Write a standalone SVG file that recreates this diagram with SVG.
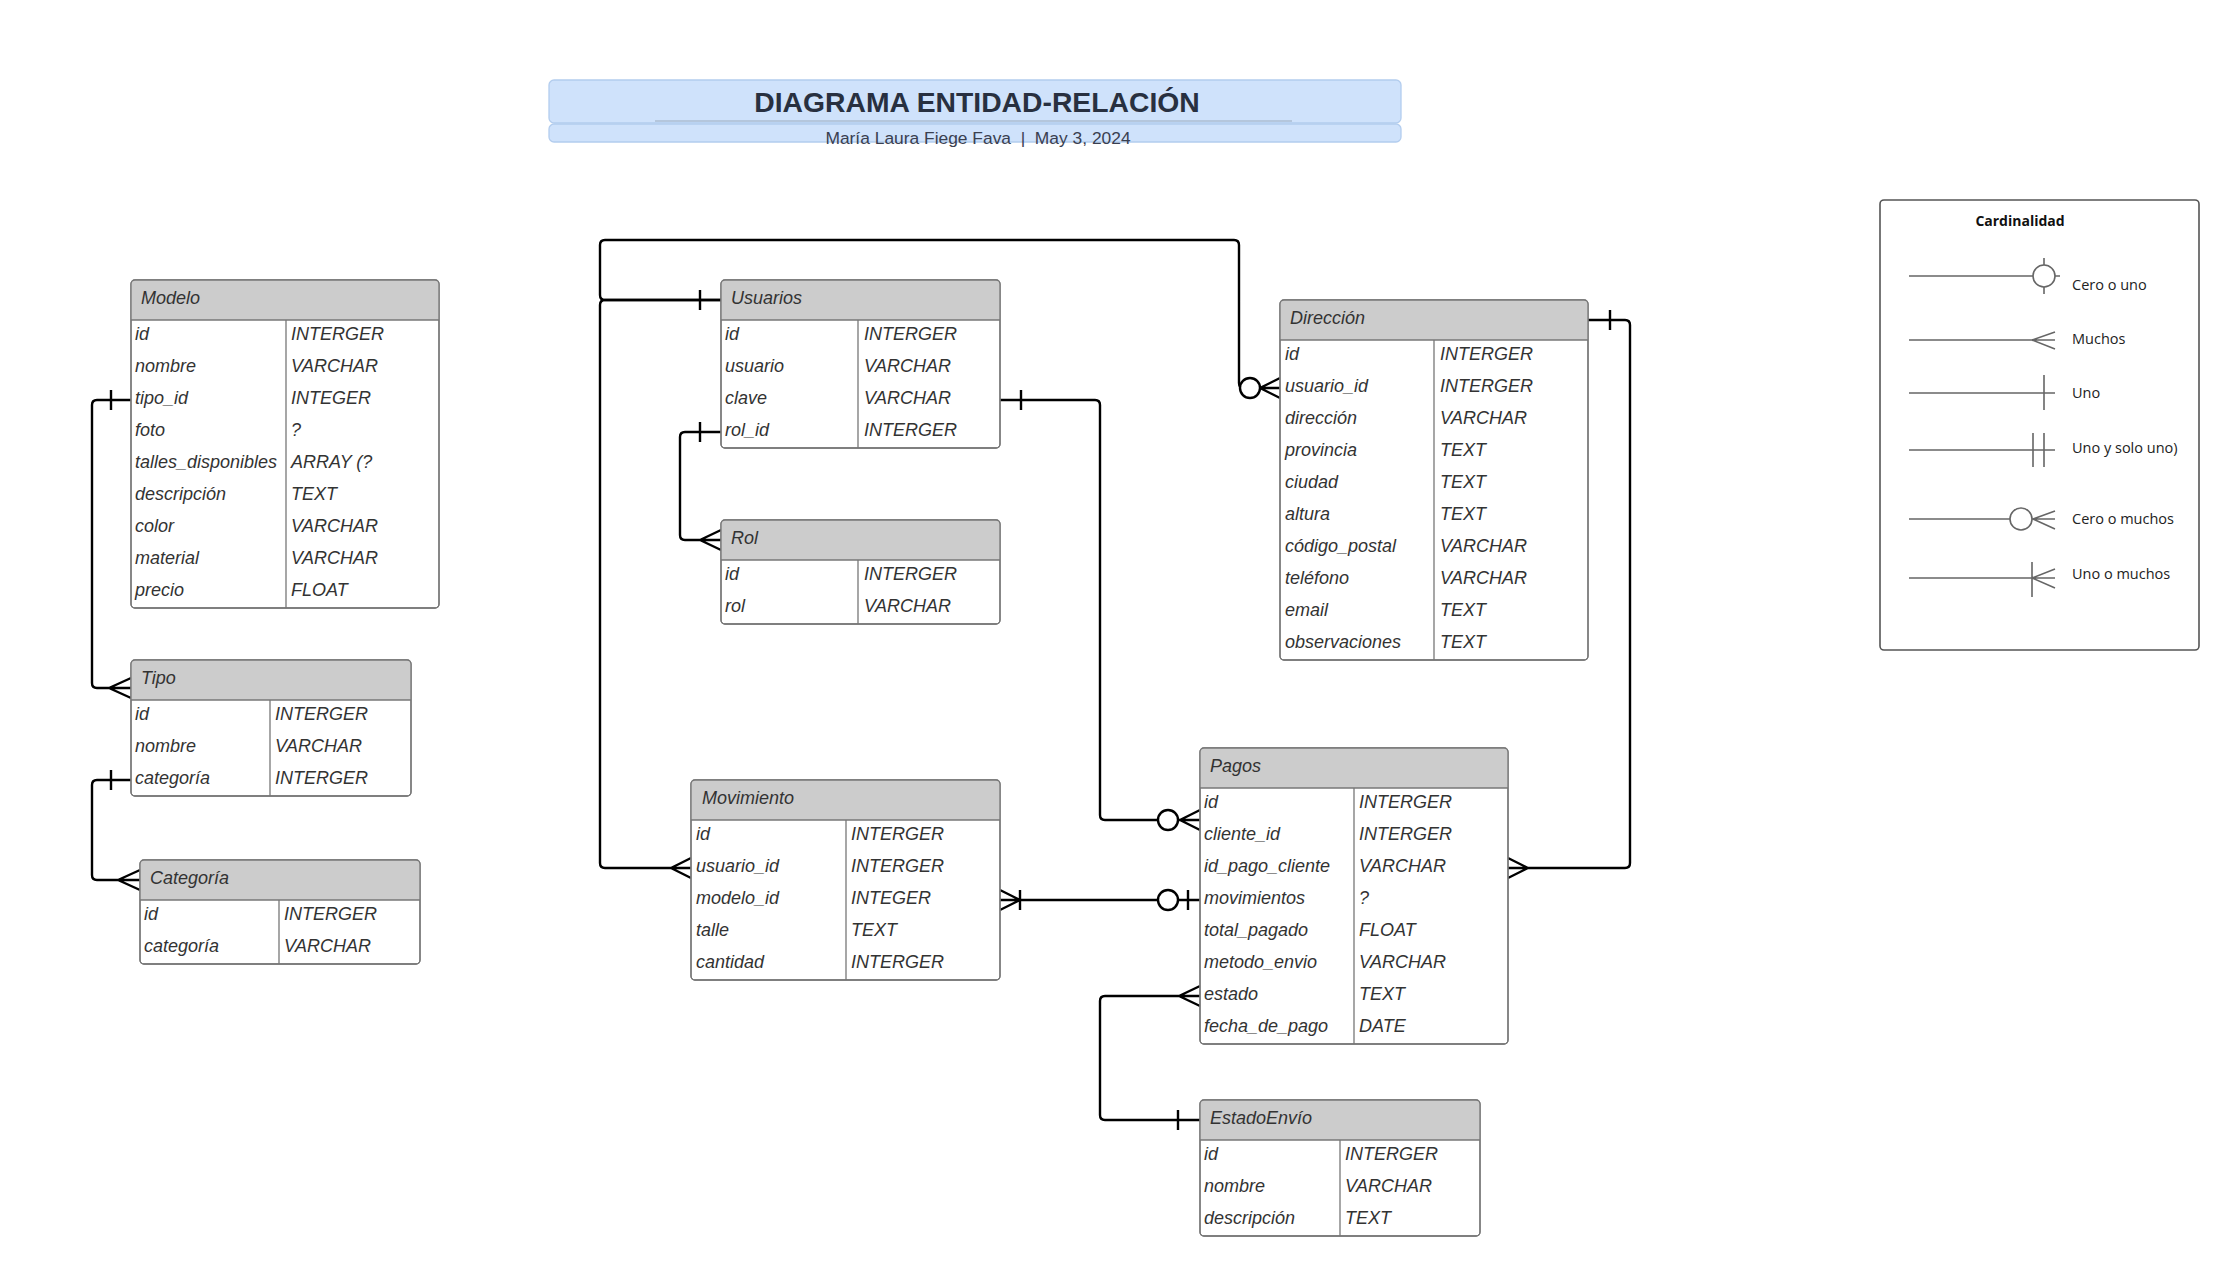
<svg xmlns="http://www.w3.org/2000/svg" width="2240" height="1276" viewBox="0 0 2240 1276">
<style>
.box{fill:#fff;stroke:#777;stroke-width:1.3}
.frame{fill:none;stroke:#777;stroke-width:1.3}
.hdr{fill:#cccccc}
.sep{stroke:#777;stroke-width:1.3}
.t{font-family:"Liberation Sans",Arial,sans-serif;font-size:18px;font-style:italic;fill:#333}
.c{fill:none;stroke:#000;stroke-width:2.4;stroke-linejoin:round}
.o{fill:#fff;stroke:#000;stroke-width:2.4}
.lg{fill:none;stroke:#666;stroke-width:1.6}
.lo{fill:#fff;stroke:#666;stroke-width:1.6}
.lt{font-family:"Open Sans","Noto Sans",sans-serif;font-size:14.5px;fill:#222}
</style>
<rect width="2240" height="1276" fill="#fff"/>

<g id="title">
<rect x="549" y="80" width="852" height="43" rx="5" fill="#cfe2fb" stroke="#b3cdee" stroke-width="1.3"/>
<rect x="549" y="124" width="852" height="18" rx="5" fill="#cfe2fb" stroke="#b3cdee" stroke-width="1.3"/>
<line x1="655" y1="121" x2="1292" y2="121" stroke="#9aa9bd" stroke-width="1.2"/>
<text x="977" y="112" text-anchor="middle" font-family="Liberation Sans,Arial,sans-serif" font-size="28.3" font-weight="bold" fill="#283040">DIAGRAMA ENTIDAD-RELACIÓN</text>
<text x="978" y="144" text-anchor="middle" font-family="Liberation Sans,Arial,sans-serif" font-size="17.4" fill="#3a4050" xml:space="preserve">María Laura Fiege Fava  |  May 3, 2024</text>
</g>

<g id="connectors">
<path class="c" d="M131 400 H97 Q92 400 92 405 V683 Q92 688 97 688 H131 M111 390 V410 M109 688 L131 678 M109 688 L131 698"/>
<path class="c" d="M131 780 H97 Q92 780 92 785 V875 Q92 880 97 880 H140 M111 770 V790 M118 880 L140 870 M118 880 L140 890"/>
<path class="c" d="M721 432 H685 Q680 432 680 437 V535 Q680 540 685 540 H721 M700 422 V442 M700 540 L721 530 M700 540 L721 550"/>
<path class="c" d="M721 300 H605 Q600 300 600 295 V245 Q600 240 605 240 H1234 Q1239 240 1239 245 V383 Q1239 388 1244 388 H1280 M700 290 V310 M1260 388 L1280 378 M1260 388 L1280 398"/>
<circle class="o" cx="1250" cy="388" r="10"/>
<path class="c" d="M721 300 H605 Q600 300 600 305 V863 Q600 868 605 868 H691 M671 868 L691 858 M671 868 L691 878"/>
<path class="c" d="M1000 400 H1095 Q1100 400 1100 405 V815 Q1100 820 1105 820 H1200 M1021 390 V410 M1180 820 L1200 810 M1180 820 L1200 830"/>
<circle class="o" cx="1168" cy="820" r="10"/>
<path class="c" d="M1000 900 H1200 M1020 900 L1000 890 M1020 900 L1000 910 M1020 890 V910 M1188 890 V910"/>
<circle class="o" cx="1168" cy="900" r="10"/>
<path class="c" d="M1588 320 H1625 Q1630 320 1630 325 V863 Q1630 868 1625 868 H1508 M1610 310 V330 M1528 868 L1508 858 M1528 868 L1508 878"/>
<path class="c" d="M1200 996 H1105 Q1100 996 1100 1001 V1115 Q1100 1120 1105 1120 H1200 M1179 996 L1200 986 M1179 996 L1200 1006 M1178 1110 V1130"/>
</g>

<g id="Modelo">
<rect class="box" x="131" y="280" width="308" height="328" rx="4"/>
<path class="hdr" d="M131 320 V284 Q131 280 135 280 H435 Q439 280 439 284 V320 Z"/>
<line class="sep" x1="131" y1="320" x2="439" y2="320"/>
<line class="sep" x1="286" y1="320" x2="286" y2="608"/>
<rect class="frame" x="131" y="280" width="308" height="328" rx="4"/>
<text class="t" x="141" y="304">Modelo</text>
<text class="t" x="135" y="340">id</text><text class="t" x="291" y="340">INTERGER</text>
<text class="t" x="135" y="372">nombre</text><text class="t" x="291" y="372">VARCHAR</text>
<text class="t" x="135" y="404">tipo_id</text><text class="t" x="291" y="404">INTEGER</text>
<text class="t" x="135" y="436">foto</text><text class="t" x="291" y="436">?</text>
<text class="t" x="135" y="468">talles_disponibles</text><text class="t" x="291" y="468">ARRAY (?</text>
<text class="t" x="135" y="500">descripción</text><text class="t" x="291" y="500">TEXT</text>
<text class="t" x="135" y="532">color</text><text class="t" x="291" y="532">VARCHAR</text>
<text class="t" x="135" y="564">material</text><text class="t" x="291" y="564">VARCHAR</text>
<text class="t" x="135" y="596">precio</text><text class="t" x="291" y="596">FLOAT</text>
</g>

<g id="Tipo">
<rect class="box" x="131" y="660" width="280" height="136" rx="4"/>
<path class="hdr" d="M131 700 V664 Q131 660 135 660 H407 Q411 660 411 664 V700 Z"/>
<line class="sep" x1="131" y1="700" x2="411" y2="700"/>
<line class="sep" x1="270" y1="700" x2="270" y2="796"/>
<rect class="frame" x="131" y="660" width="280" height="136" rx="4"/>
<text class="t" x="141" y="684">Tipo</text>
<text class="t" x="135" y="720">id</text><text class="t" x="275" y="720">INTERGER</text>
<text class="t" x="135" y="752">nombre</text><text class="t" x="275" y="752">VARCHAR</text>
<text class="t" x="135" y="784">categoría</text><text class="t" x="275" y="784">INTERGER</text>
</g>

<g id="Categoria">
<rect class="box" x="140" y="860" width="280" height="104" rx="4"/>
<path class="hdr" d="M140 900 V864 Q140 860 144 860 H416 Q420 860 420 864 V900 Z"/>
<line class="sep" x1="140" y1="900" x2="420" y2="900"/>
<line class="sep" x1="279" y1="900" x2="279" y2="964"/>
<rect class="frame" x="140" y="860" width="280" height="104" rx="4"/>
<text class="t" x="150" y="884">Categoría</text>
<text class="t" x="144" y="920">id</text><text class="t" x="284" y="920">INTERGER</text>
<text class="t" x="144" y="952">categoría</text><text class="t" x="284" y="952">VARCHAR</text>
</g>

<g id="Usuarios">
<rect class="box" x="721" y="280" width="279" height="168" rx="4"/>
<path class="hdr" d="M721 320 V284 Q721 280 725 280 H996 Q1000 280 1000 284 V320 Z"/>
<line class="sep" x1="721" y1="320" x2="1000" y2="320"/>
<line class="sep" x1="858" y1="320" x2="858" y2="448"/>
<rect class="frame" x="721" y="280" width="279" height="168" rx="4"/>
<text class="t" x="731" y="304">Usuarios</text>
<text class="t" x="725" y="340">id</text><text class="t" x="864" y="340">INTERGER</text>
<text class="t" x="725" y="372">usuario</text><text class="t" x="864" y="372">VARCHAR</text>
<text class="t" x="725" y="404">clave</text><text class="t" x="864" y="404">VARCHAR</text>
<text class="t" x="725" y="436">rol_id</text><text class="t" x="864" y="436">INTERGER</text>
</g>

<g id="Rol">
<rect class="box" x="721" y="520" width="279" height="104" rx="4"/>
<path class="hdr" d="M721 560 V524 Q721 520 725 520 H996 Q1000 520 1000 524 V560 Z"/>
<line class="sep" x1="721" y1="560" x2="1000" y2="560"/>
<line class="sep" x1="858" y1="560" x2="858" y2="624"/>
<rect class="frame" x="721" y="520" width="279" height="104" rx="4"/>
<text class="t" x="731" y="544">Rol</text>
<text class="t" x="725" y="580">id</text><text class="t" x="864" y="580">INTERGER</text>
<text class="t" x="725" y="612">rol</text><text class="t" x="864" y="612">VARCHAR</text>
</g>

<g id="Direccion">
<rect class="box" x="1280" y="300" width="308" height="360" rx="4"/>
<path class="hdr" d="M1280 340 V304 Q1280 300 1284 300 H1584 Q1588 300 1588 304 V340 Z"/>
<line class="sep" x1="1280" y1="340" x2="1588" y2="340"/>
<line class="sep" x1="1434" y1="340" x2="1434" y2="660"/>
<rect class="frame" x="1280" y="300" width="308" height="360" rx="4"/>
<text class="t" x="1290" y="324">Dirección</text>
<text class="t" x="1285" y="360">id</text><text class="t" x="1440" y="360">INTERGER</text>
<text class="t" x="1285" y="392">usuario_id</text><text class="t" x="1440" y="392">INTERGER</text>
<text class="t" x="1285" y="424">dirección</text><text class="t" x="1440" y="424">VARCHAR</text>
<text class="t" x="1285" y="456">provincia</text><text class="t" x="1440" y="456">TEXT</text>
<text class="t" x="1285" y="488">ciudad</text><text class="t" x="1440" y="488">TEXT</text>
<text class="t" x="1285" y="520">altura</text><text class="t" x="1440" y="520">TEXT</text>
<text class="t" x="1285" y="552">código_postal</text><text class="t" x="1440" y="552">VARCHAR</text>
<text class="t" x="1285" y="584">teléfono</text><text class="t" x="1440" y="584">VARCHAR</text>
<text class="t" x="1285" y="616">email</text><text class="t" x="1440" y="616">TEXT</text>
<text class="t" x="1285" y="648">observaciones</text><text class="t" x="1440" y="648">TEXT</text>
</g>

<g id="Movimiento">
<rect class="box" x="691" y="780" width="309" height="200" rx="4"/>
<path class="hdr" d="M691 820 V784 Q691 780 695 780 H996 Q1000 780 1000 784 V820 Z"/>
<line class="sep" x1="691" y1="820" x2="1000" y2="820"/>
<line class="sep" x1="846" y1="820" x2="846" y2="980"/>
<rect class="frame" x="691" y="780" width="309" height="200" rx="4"/>
<text class="t" x="702" y="804">Movimiento</text>
<text class="t" x="696" y="840">id</text><text class="t" x="851" y="840">INTERGER</text>
<text class="t" x="696" y="872">usuario_id</text><text class="t" x="851" y="872">INTERGER</text>
<text class="t" x="696" y="904">modelo_id</text><text class="t" x="851" y="904">INTEGER</text>
<text class="t" x="696" y="936">talle</text><text class="t" x="851" y="936">TEXT</text>
<text class="t" x="696" y="968">cantidad</text><text class="t" x="851" y="968">INTERGER</text>
</g>

<g id="Pagos">
<rect class="box" x="1200" y="748" width="308" height="296" rx="4"/>
<path class="hdr" d="M1200 788 V752 Q1200 748 1204 748 H1504 Q1508 748 1508 752 V788 Z"/>
<line class="sep" x1="1200" y1="788" x2="1508" y2="788"/>
<line class="sep" x1="1354" y1="788" x2="1354" y2="1044"/>
<rect class="frame" x="1200" y="748" width="308" height="296" rx="4"/>
<text class="t" x="1210" y="772">Pagos</text>
<text class="t" x="1204" y="808">id</text><text class="t" x="1359" y="808">INTERGER</text>
<text class="t" x="1204" y="840">cliente_id</text><text class="t" x="1359" y="840">INTERGER</text>
<text class="t" x="1204" y="872">id_pago_cliente</text><text class="t" x="1359" y="872">VARCHAR</text>
<text class="t" x="1204" y="904">movimientos</text><text class="t" x="1359" y="904">?</text>
<text class="t" x="1204" y="936">total_pagado</text><text class="t" x="1359" y="936">FLOAT</text>
<text class="t" x="1204" y="968">metodo_envio</text><text class="t" x="1359" y="968">VARCHAR</text>
<text class="t" x="1204" y="1000">estado</text><text class="t" x="1359" y="1000">TEXT</text>
<text class="t" x="1204" y="1032">fecha_de_pago</text><text class="t" x="1359" y="1032">DATE</text>
</g>

<g id="EstadoEnvio">
<rect class="box" x="1200" y="1100" width="280" height="136" rx="4"/>
<path class="hdr" d="M1200 1140 V1104 Q1200 1100 1204 1100 H1476 Q1480 1100 1480 1104 V1140 Z"/>
<line class="sep" x1="1200" y1="1140" x2="1480" y2="1140"/>
<line class="sep" x1="1340" y1="1140" x2="1340" y2="1236"/>
<rect class="frame" x="1200" y="1100" width="280" height="136" rx="4"/>
<text class="t" x="1210" y="1124">EstadoEnvío</text>
<text class="t" x="1204" y="1160">id</text><text class="t" x="1345" y="1160">INTERGER</text>
<text class="t" x="1204" y="1192">nombre</text><text class="t" x="1345" y="1192">VARCHAR</text>
<text class="t" x="1204" y="1224">descripción</text><text class="t" x="1345" y="1224">TEXT</text>
</g>

<g id="legend">
<rect x="1880" y="200" width="319" height="450" rx="4" fill="#fff" stroke="#555" stroke-width="1.6"/>
<text x="2020" y="226" text-anchor="middle" font-family="Open Sans,Noto Sans,sans-serif" font-size="14" font-weight="bold" fill="#111">Cardinalidad</text>
<path class="lg" d="M1909 276 H2060 M2044 258 V294"/>
<circle class="lo" cx="2044" cy="276" r="11"/>
<text class="lt" x="2072" y="290">Cero o uno</text>
<path class="lg" d="M1909 340 H2055 M2032 340 L2055 332 M2032 340 L2055 349"/>
<text class="lt" x="2072" y="344">Muchos</text>
<path class="lg" d="M1909 393 H2055 M2044 375 V410"/>
<text class="lt" x="2072" y="398">Uno</text>
<path class="lg" d="M1909 450 H2055 M2033 433 V467 M2044 433 V467"/>
<text class="lt" x="2072" y="453">Uno y solo uno)</text>
<path class="lg" d="M1909 519 H2055 M2033 519 L2055 511 M2033 519 L2055 529"/>
<circle class="lo" cx="2021" cy="519" r="11"/>
<text class="lt" x="2072" y="524">Cero o muchos</text>
<path class="lg" d="M1909 578 H2055 M2032 562 V597 M2032 578 L2055 569 M2032 578 L2055 588"/>
<text class="lt" x="2072" y="579">Uno o muchos</text>
</g>
</svg>
